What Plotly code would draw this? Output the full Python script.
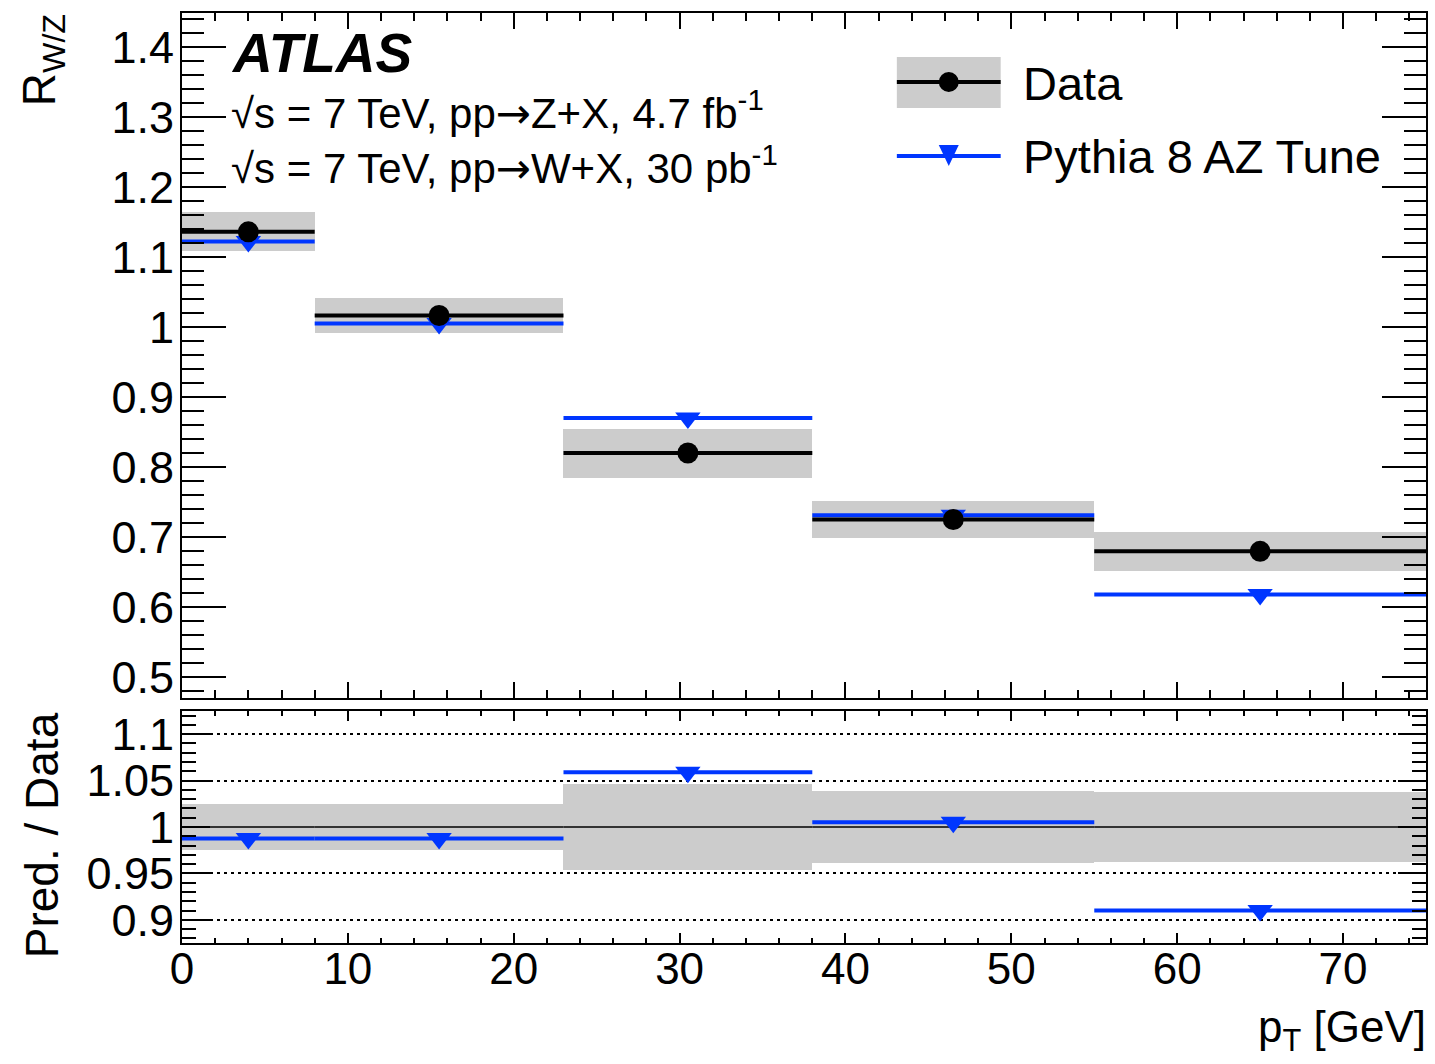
import plotly.graph_objects as go

# ---------------- data ----------------
bin_edges = [0, 8, 23, 38, 55, 75]
data_vals = [1.136, 1.0165, 0.820, 0.725, 0.6795]
data_err = [0.028, 0.0245, 0.035, 0.027, 0.0275]
pythia_vals = [1.122, 1.005, 0.870, 0.731, 0.618]
ratio_pythia = [0.9875, 0.9875, 1.059, 1.005, 0.910]
ratio_err = [0.025, 0.025, 0.046, 0.0385, 0.0375]

top_yticks = [0.5, 0.6, 0.7, 0.8, 0.9, 1.0, 1.1, 1.2, 1.3, 1.4]
top_yticktext = ["0.5", "0.6", "0.7", "0.8", "0.9", "1", "1.1", "1.2", "1.3", "1.4"]
bot_yticks = [0.9, 0.95, 1.0, 1.05, 1.1]
bot_yticktext = ["0.9", "0.95", "1", "1.05", "1.1"]
xticks = [0, 10, 20, 30, 40, 50, 60, 70]
xticktext = ["0", "10", "20", "30", "40", "50", "60", "70"]

centers = [(a + b) / 2 for a, b in zip(bin_edges[:-1], bin_edges[1:])]
halfw = [(b - a) / 2 for a, b in zip(bin_edges[:-1], bin_edges[1:])]
widths = [b - a for a, b in zip(bin_edges[:-1], bin_edges[1:])]
ratio_data = [v / v for v in data_vals]

BLUE = "#0036ff"
GRAY = "#cccccc"
FONT = "Liberation Sans, Arial, Helvetica, sans-serif"
ARROW = "<span style=\"font-family:'DejaVu Sans'\">→</span>"

W, H = 1435, 1064
L, R, T, B = 182, 7, 13, 121
PW, PH = W - L - R, H - T - B


def px(xp):
    return (xp - L) / PW


def py(yp):
    return (H - B - yp) / PH


fig = go.Figure()

# ---- top panel ----
fig.add_trace(go.Bar(
    x=centers, y=[2 * e for e in data_err], base=[v - e for v, e in zip(data_vals, data_err)],
    width=widths, marker=dict(color=GRAY, line=dict(width=0)),
    xaxis="x", yaxis="y", showlegend=False, hoverinfo="skip"))
fig.add_trace(go.Scatter(
    x=centers, y=pythia_vals, mode="markers",
    marker=dict(symbol="triangle-down", size=22, color=BLUE, line=dict(width=0)),
    error_x=dict(type="data", array=halfw, width=0, thickness=4, color=BLUE),
    xaxis="x", yaxis="y", showlegend=False))
fig.add_trace(go.Scatter(
    x=centers, y=data_vals, mode="markers",
    marker=dict(symbol="circle", size=21, color="black", line=dict(width=0)),
    error_x=dict(type="data", array=halfw, width=0, thickness=4, color="black"),
    xaxis="x", yaxis="y", showlegend=False))

# ---- bottom panel ----
fig.add_trace(go.Bar(
    x=centers, y=[2 * e for e in ratio_err], base=[1 - e for e in ratio_err],
    width=widths, marker=dict(color=GRAY, line=dict(width=0)),
    xaxis="x2", yaxis="y2", showlegend=False, hoverinfo="skip"))
fig.add_trace(go.Scatter(
    x=centers, y=ratio_data, mode="markers",
    marker=dict(size=1, color="rgba(0,0,0,0)"),
    error_x=dict(type="data", array=halfw, width=0, thickness=1.5, color="black"),
    xaxis="x2", yaxis="y2", showlegend=False))
fig.add_trace(go.Scatter(
    x=centers, y=ratio_pythia, mode="markers",
    marker=dict(symbol="triangle-down", size=22, color=BLUE, line=dict(width=0)),
    error_x=dict(type="data", array=halfw, width=0, thickness=4, color=BLUE),
    xaxis="x2", yaxis="y2", showlegend=False))

axis_common = dict(showline=True, linewidth=2, linecolor="black", mirror="allticks",
                   ticks="inside", tickwidth=2, tickcolor="black", zeroline=False)
TICKFONT = dict(family=FONT, size=45, color="black")

top_domain = [py(698), 1.0]
bot_domain = [0.0, py(711)]

fig.update_layout(
    width=W, height=H, autosize=False,
    margin=dict(l=L, r=R, t=T, b=B, pad=0),
    paper_bgcolor="white", plot_bgcolor="white",
    bargap=0, barmode="overlay",
    xaxis=dict(**axis_common, domain=[0, 1], anchor="y", range=[0, 75],
               tickmode="array", tickvals=xticks, ticktext=xticktext,
               showticklabels=False, ticklen=16, showgrid=False,
               minor=dict(ticks="inside", ticklen=8, tickwidth=2, tickcolor="black",
                          tick0=0, dtick=2, showgrid=False)),
    yaxis=dict(**axis_common, domain=top_domain, anchor="x", range=[0.47, 1.4486],
               tickmode="array", tickvals=top_yticks, ticktext=top_yticktext,
               tickfont=TICKFONT, ticklen=44, showgrid=False, ticklabelstandoff=-3,
               minor=dict(ticks="inside", ticklen=22, tickwidth=2, tickcolor="black",
                          tick0=0, dtick=0.02, showgrid=False)),
    xaxis2=dict(**axis_common, domain=[0, 1], anchor="y2", range=[0, 75], matches="x",
                tickmode="array", tickvals=xticks, ticktext=xticktext,
                tickfont=dict(family=FONT, size=44, color="black"),
                ticklen=10, showgrid=False, ticklabelstandoff=-14,
                minor=dict(ticks="inside", ticklen=5, tickwidth=2, tickcolor="black",
                           tick0=0, dtick=2, showgrid=False)),
    yaxis2=dict(**axis_common, domain=bot_domain, anchor="x2", range=[0.875, 1.125],
                tickmode="array", tickvals=bot_yticks, ticktext=bot_yticktext,
                tickfont=TICKFONT, ticklen=28, showgrid=True, gridcolor="black", gridwidth=2,
                griddash="3px,4px", ticklabelstandoff=-3,
                minor=dict(ticks="inside", ticklen=14, tickwidth=2, tickcolor="black",
                           tick0=0, dtick=0.01, showgrid=False)),
)

# ---- legend (manual) ----
shapes = [
    dict(type="rect", xref="paper", yref="paper", x0=px(898), x1=px(1002), y0=py(108), y1=py(57),
         fillcolor=GRAY, line=dict(width=0), layer="above"),
    dict(type="line", xref="paper", yref="paper", x0=px(898), x1=px(1002), y0=py(82), y1=py(82),
         line=dict(color="black", width=4), layer="above"),
    dict(type="circle", xref="paper", yref="paper", xsizemode="pixel", ysizemode="pixel",
         xanchor=px(950), yanchor=py(82), x0=-10, x1=10, y0=-10, y1=10,
         fillcolor="black", line=dict(width=0), layer="above"),
    dict(type="line", xref="paper", yref="paper", x0=px(898), x1=px(1002), y0=py(156), y1=py(156),
         line=dict(color=BLUE, width=4), layer="above"),
    dict(type="path", xref="paper", yref="paper", xsizemode="pixel", ysizemode="pixel",
         xanchor=px(950), yanchor=py(156), path="M -10,11 L 10,11 L 0,-10 Z",
         fillcolor=BLUE, line=dict(width=0), layer="above"),
]
fig.update_layout(shapes=shapes)

ann = [
    dict(text="<b><i>ATLAS</i></b>", x=px(229), y=py(53), xanchor="left", yanchor="middle",
         font=dict(family=FONT, size=55, color="black")),
    dict(text="√s = 7 TeV, pp" + ARROW + "Z+X, 4.7 fb<sup>-1</sup>", x=px(229), y=py(111),
         xanchor="left", yanchor="middle", font=dict(family=FONT, size=42, color="black")),
    dict(text="√s = 7 TeV, pp" + ARROW + "W+X, 30 pb<sup>-1</sup>", x=px(229), y=py(165),
         xanchor="left", yanchor="middle", font=dict(family=FONT, size=42, color="black")),
    dict(text="Data", x=px(1022), y=py(84), xanchor="left", yanchor="middle",
         font=dict(family=FONT, size=47, color="black")),
    dict(text="Pythia 8 AZ Tune", x=px(1022), y=py(157), xanchor="left", yanchor="middle",
         font=dict(family=FONT, size=47, color="black")),
    dict(text="R<sub>W/Z</sub>", x=px(42), y=py(12), xanchor="center", yanchor="top", textangle=-90,
         font=dict(family=FONT, size=46, color="black")),
    dict(text="Pred. / Data", x=px(42), y=py(835), xanchor="center", yanchor="middle", textangle=-90,
         font=dict(family=FONT, size=46, color="black")),
    dict(text="p<sub>T</sub> [GeV]", x=px(1430), y=py(1030), xanchor="right", yanchor="middle",
         font=dict(family=FONT, size=44, color="black")),
]
for a in ann:
    a.update(xref="paper", yref="paper", showarrow=False)
fig.update_layout(annotations=ann)

fig.write_html("out.html")
